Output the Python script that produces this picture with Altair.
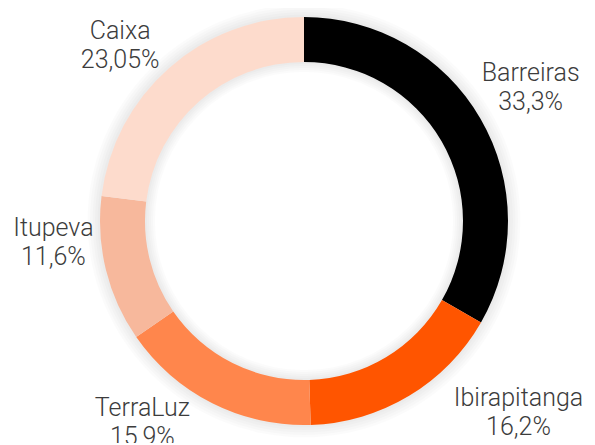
import math
import altair as alt
import pandas as pd

categories = ["Barreiras", "Ibirapitanga", "TerraLuz", "Itupeva", "Caixa"]
values = [33.3, 16.2, 15.9, 11.6, 23.05]
value_labels = ["33,3%", "16,2%", "15,9%", "11,6%", "23,05%"]
colors = ["#000000", "#FF5500", "#FF864C", "#F7B89C", "#FDDBCC"]

# label nudges (styling only)
nudges = {
    "Barreiras": (6, -20),
    "Ibirapitanga": (83, -41),
    "TerraLuz": (-47, -41),
    "Itupeva": (-3, -54),
    "Caixa": (-15, 1),
}

df = pd.DataFrame({
    "cat": categories,
    "value": values,
    "pct": value_labels,
    "order": list(range(len(categories))),
})
df["label"] = df["cat"] + "\n" + df["pct"]
total = sum(values)

theta_scale = alt.Scale(domain=[0, total], range=[0, 2 * math.pi])

base = (
    alt.Chart(df)
    .transform_window(cum="sum(value)", sort=[alt.SortField("order")], frame=[None, 0])
    .transform_calculate(start="datum.cum - datum.value", mid="datum.cum - datum.value / 2")
)

INNER, OUTER = 159, 204

shadow_layers = []
for k in range(1, 6):
    shadow_layers.append(
        alt.Chart(pd.DataFrame({"a": [0]}))
        .mark_arc(innerRadius=INNER - 2 * k, outerRadius=OUTER + 2.5 * k, color="#000000", opacity=0.014)
        .encode(theta=alt.value(0), theta2=alt.value(2 * math.pi))
    )

arcs = base.mark_arc(innerRadius=INNER, outerRadius=OUTER).encode(
    theta=alt.Theta("start:Q", stack=None, scale=theta_scale),
    theta2="cum:Q",
    color=alt.Color("cat:N", scale=alt.Scale(domain=categories, range=colors), legend=None),
)

texts = []
for c in categories:
    dx, dy = nudges[c]
    texts.append(
        base.transform_filter(alt.datum.cat == c)
        .mark_text(
            radius=255, font="Roboto", fontWeight=300, fontSize=25, color="#3c3c3c",
            lineBreak="\n", lineHeight=29, align="center", baseline="middle", dx=dx, dy=dy,
        )
        .encode(theta=alt.Theta("mid:Q", stack=None, scale=theta_scale), text="label:N")
    )

chart = (
    alt.layer(*shadow_layers, arcs, *texts)
    .properties(
        width=566, height=426,
        autosize=alt.AutoSizeParams(type="none"),
        padding={"left": 13, "right": 0, "top": 0, "bottom": 9},
    )
    .configure_view(stroke=None)
)

chart.save("out.html", embed_options={"renderer": "svg", "actions": False})
